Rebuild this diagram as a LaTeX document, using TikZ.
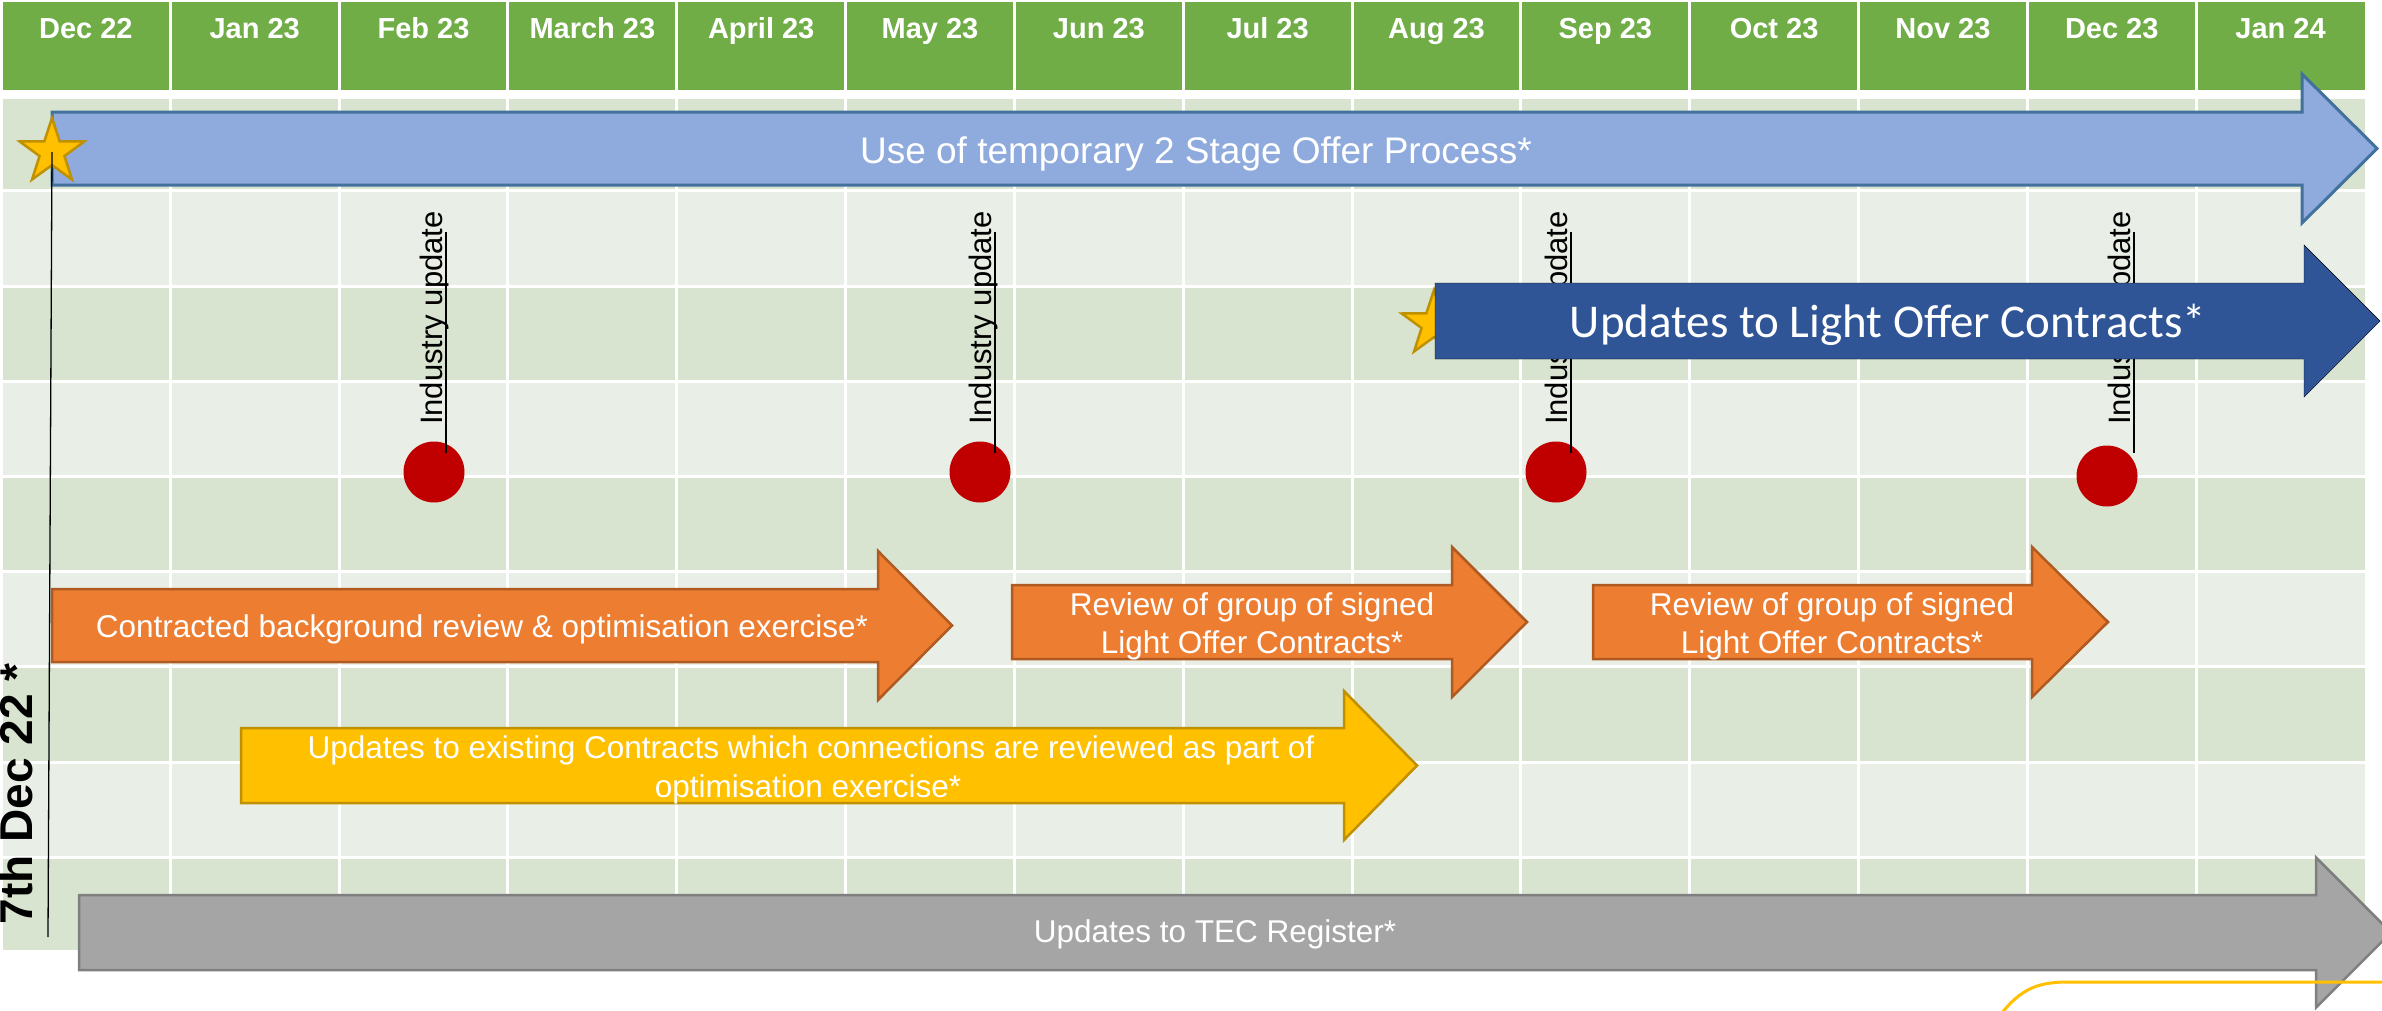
\documentclass[tikz,border=0pt]{standalone}
\usepackage{fontspec}
\setmainfont{Liberation Sans}
\newfontfamily\carlito{Carlito}
\usetikzlibrary{shapes.geometric}
\definecolor{hdr}{HTML}{70AD47}
\definecolor{rowdark}{HTML}{D8E4D0}
\definecolor{rowlight}{HTML}{E9EFE7}
\definecolor{lblue}{HTML}{8FAADC}
\definecolor{lblueline}{HTML}{41719C}
\definecolor{dblue}{HTML}{2F5597}
\definecolor{orangef}{HTML}{ED7D31}
\definecolor{orangel}{HTML}{AE5A21}
\definecolor{yellowf}{HTML}{FFC000}
\definecolor{yellowl}{HTML}{BF9000}
\definecolor{grayf}{HTML}{A5A5A5}
\definecolor{grayl}{HTML}{7F7F7F}
\definecolor{dotred}{HTML}{C00000}
\newcommand\blockarrow[7]{%
  \draw[#1] (#2,#5-#6) -- (#3,#5-#6) -- (#3,#5-#7) -- (#4,#5) -- (#3,#5+#7) -- (#3,#5+#6) -- (#2,#5+#6) -- cycle;}
\begin{document}
\begin{tikzpicture}[x=1pt,y=-1pt,
  hdrtxt/.style={text=white, inner sep=0pt, anchor=base, font=\fontsize{29}{34}\selectfont\bfseries},
  wtxt/.style={text=white, inner sep=0pt, anchor=base, font=\fontsize{31.5}{38}\selectfont},
  iutxt/.style={rotate=90, anchor=base, inner sep=0pt, text=black, font=\fontsize{31}{37}\selectfont},
  dot/.style={circle, fill=dotred, inner sep=0pt, minimum size=61pt},
  starn/.style={star, star points=5, star point ratio=2.6, fill=yellowf, draw=yellowl, line width=2.5pt, inner sep=0pt, minimum size=68pt},
  thin/.style={draw=black, line width=1.3pt},
  lbarrow/.style={fill=lblue, draw=lblueline, line width=3pt, line join=miter},
  dbarrow/.style={fill=dblue},
  orarrow/.style={fill=orangef, draw=orangel, line width=2.5pt, line join=miter},
  yearrow/.style={fill=yellowf, draw=yellowl, line width=2.5pt, line join=miter},
  grarrow/.style={fill=grayf, draw=grayl, line width=2.5pt, line join=miter},
  sep/.style={draw=white, line width=3pt}]
\useasboundingbox (0,0) rectangle (2382,1010);
\clip (0,0) rectangle (2382,1010);
% table rows
\foreach \t/\b/\c in {99/188.5/rowdark, 191.5/284.5/rowlight, 287.5/379.5/rowdark,
  382.5/474.5/rowlight, 477.5/569.5/rowdark, 572.5/664.5/rowlight,
  667.5/760.5/rowdark, 763.5/855.5/rowlight, 858.5/950/rowdark}
  \fill[\c] (3,\t) rectangle (2365,\b);
\foreach \i in {1,...,13} \draw[sep] ({1.5+\i*168.82},99) -- ({1.5+\i*168.82},950);
% header
\fill[hdr] (3,2) rectangle (2365,90);
\foreach \i in {1,...,13} \draw[sep] ({1.5+\i*168.82},2) -- ({1.5+\i*168.82},90);
\foreach \m [count=\i from 0] in {Dec 22, Jan 23, Feb 23, March 23, April 23, May 23, Jun 23,
  Jul 23, Aug 23, Sep 23, Oct 23, Nov 23, Dec 23, Jan 24}
  \node[hdrtxt] (h\i) at ({1.5+(\i+0.5)*168.82},38) {\m};
% light blue arrow
\blockarrow{lbarrow}{52}{2302}{2377}{148.5}{36.5}{74.5}
\node[wtxt, font=\fontsize{37}{44}\selectfont] (t1) at (1196,163) {Use of temporary 2 Stage Offer Process*};
% start star and line
\node[starn] (star1) at (52,152) {};
\coordinate (lineend) at (48,937);
\draw[thin] (star1.center) -- (lineend);
% industry updates
\foreach \k/\cx/\cy/\lx in {1/434/472/446, 2/980/472/995, 3/1556/472/1571, 4/2107/476/2134} {
  \node[dot] (d\k) at (\cx,\cy) {};
  \node[iutxt] (iu\k) at ({\lx-4},318) {Industry update};
  \coordinate (lt\k) at (\lx,232);
  \coordinate (lb\k) at (\lx,453);
  \draw[thin] (lt\k) -- (lb\k);
}
% light offer contracts
\node[starn] (star2) at (1434,324) {};
\blockarrow{dbarrow}{1435}{2304}{2380}{321}{38}{76}
\node[text=white, inner sep=0pt, anchor=base, font=\carlito\fontsize{47}{56}\selectfont] (t2) at (1888,337) {Updates to Light Offer Contracts*};
% orange arrows
\blockarrow{orarrow}{52}{878}{952}{625.5}{36.5}{74.5}
\node[wtxt] (t3) at (482,637) {Contracted background review \& optimisation exercise*};
\blockarrow{orarrow}{1012}{1452}{1527}{622}{37}{75}
\node[wtxt] (t4a) at (1252,615) {Review of group of signed};
\node[wtxt] (t4b) at (1252,653) {Light Offer Contracts*};
\blockarrow{orarrow}{1593}{2032}{2108}{622}{37}{75}
\node[wtxt] (t5a) at (1832,615) {Review of group of signed};
\node[wtxt] (t5b) at (1832,653) {Light Offer Contracts*};
% yellow arrow
\blockarrow{yearrow}{241}{1344}{1417}{765.5}{37.5}{74.5}
\node[wtxt] (t6a) at (811,758) {Updates to existing Contracts which connections are reviewed as part of};
\node[wtxt] (t6b) at (808,797) {optimisation exercise*};
% gray arrow
\blockarrow{grarrow}{79}{2316}{2391}{932.5}{37.5}{75}
\node[wtxt] (t7) at (1215,942) {Updates to TEC Register*};
% bottom right curve
\coordinate (cva) at (1995,1022);
\coordinate (cvb) at (2400,982);
\draw[draw=yellowf, line width=3pt] (cva) .. controls (2018,990) and (2035,982) .. (2068,982) -- (cvb);
% date label
\node[rotate=90, anchor=base, inner sep=0pt, text=black, font=\fontsize{46}{55}\selectfont\bfseries] (d0) at (32,794) {7th Dec 22 *};
\end{tikzpicture}
\end{document}
